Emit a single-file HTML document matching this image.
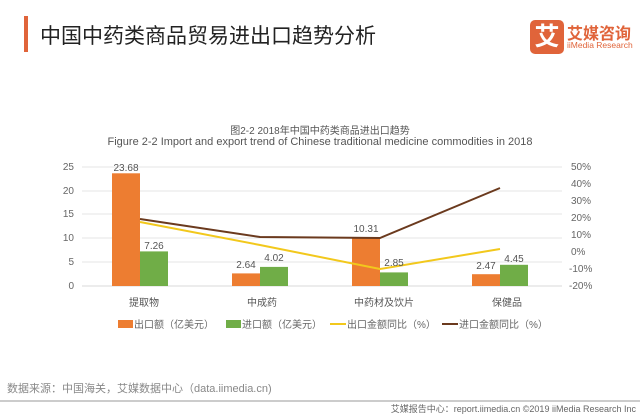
<!DOCTYPE html><html><head><meta charset="utf-8"><style>
body{margin:0;width:640px;height:416px;background:#fff;overflow:hidden;font-family:"Liberation Sans","Noto Sans CJK SC",sans-serif;position:relative}
.a{position:absolute;white-space:nowrap}
</style></head><body>
<div class="a" style="left:24px;top:16px;width:4px;height:36px;background:#e0643a"></div>
<div class="a" style="left:40px;top:20px;font-size:21px;color:#222">中国中药类商品贸易进出口趋势分析</div>
<div class="a" style="left:530px;top:20px;width:34px;height:34px;background:#e0643a;border-radius:5px;color:#fff;font-size:25px;line-height:34px;text-align:center;font-weight:bold">艾</div>
<div class="a" style="left:567px;top:20px;font-size:16px;color:#e0643a;font-weight:bold">艾媒咨询</div>
<div class="a" style="left:567px;top:40px;font-size:8.5px;color:#e0643a">iiMedia Research</div>
<div class="a" style="left:0;width:640px;top:122px;text-align:center;font-size:10px;color:#555">图2-2 2018年中国中药类商品进出口趋势</div>
<div class="a" style="left:0;width:640px;top:136px;text-align:center;font-size:11px;color:#555">Figure 2-2 Import and export trend of Chinese traditional medicine commodities in 2018</div>
<svg class="a" style="left:0;top:0" width="640" height="416" font-family="Liberation Sans, Noto Sans CJK SC, sans-serif" font-size="10" fill="#666">
<g stroke="#e6e6e6" stroke-width="1">
<line x1="82" x2="562" y1="167" y2="167"/><line x1="82" x2="562" y1="191" y2="191"/><line x1="82" x2="562" y1="214" y2="214"/><line x1="82" x2="562" y1="238" y2="238"/><line x1="82" x2="562" y1="262" y2="262"/><line x1="82" x2="562" y1="286" y2="286" stroke="#d8d8d8"/></g>
<g text-anchor="end"><text x="74" y="170">25</text><text x="74" y="194">20</text><text x="74" y="217">15</text><text x="74" y="241">10</text><text x="74" y="265">5</text><text x="74" y="289">0</text></g>
<g><text x="571" y="170">50%</text><text x="571" y="187">40%</text><text x="571" y="204">30%</text><text x="571" y="221">20%</text><text x="571" y="238">10%</text><text x="571" y="255">0%</text><text x="569" y="272">-10%</text><text x="569" y="289">-20%</text></g>
<g fill="#ed7d31"><rect x="112" y="173.3" width="28" height="112.7"/><rect x="232" y="273.4" width="28" height="12.6"/><rect x="352" y="237" width="28" height="49"/><rect x="472" y="274.2" width="28" height="11.8"/></g>
<g fill="#70ad47"><rect x="140" y="251.4" width="28" height="34.6"/><rect x="260" y="266.9" width="28" height="19.1"/><rect x="380" y="272.4" width="28" height="13.6"/><rect x="500" y="264.8" width="28" height="21.2"/></g>
<polyline points="140,222 260,245 380,269 500,249" fill="none" stroke="#f2c81c" stroke-width="2"/>
<polyline points="140,219 260,237 380,238 500,188" fill="none" stroke="#6b3a1e" stroke-width="2"/>
<g text-anchor="middle" fill="#555"><text x="126" y="171">23.68</text><text x="154" y="249">7.26</text><text x="246" y="268">2.64</text><text x="274" y="261">4.02</text><text x="366" y="232">10.31</text><text x="394" y="266">2.85</text><text x="486" y="269">2.47</text><text x="514" y="262">4.45</text>
<text x="144" y="306">提取物</text><text x="262" y="306">中成药</text><text x="384" y="306">中药材及饮片</text><text x="507" y="306">保健品</text></g>
<rect x="118" y="320" width="15" height="8" fill="#ed7d31"/><text x="134" y="328">出口额（亿美元）</text>
<rect x="226" y="320" width="15" height="8" fill="#70ad47"/><text x="242" y="328">进口额（亿美元）</text>
<line x1="330" x2="346" y1="324" y2="324" stroke="#f2c81c" stroke-width="2"/><text x="347" y="328">出口金额同比（%）</text>
<line x1="442" x2="458" y1="324" y2="324" stroke="#6b3a1e" stroke-width="2"/><text x="459" y="328">进口金额同比（%）</text>
<line x1="0" x2="640" y1="401" y2="401" stroke="#999" stroke-width="1"/>
<text x="7" y="392" font-size="11" fill="#888">数据来源：中国海关，艾媒数据中心（data.iimedia.cn)</text>
<text x="636" y="412" font-size="9" fill="#666" text-anchor="end">艾媒报告中心：report.iimedia.cn  ©2019  iiMedia Research Inc</text>
</svg>
</body></html>
